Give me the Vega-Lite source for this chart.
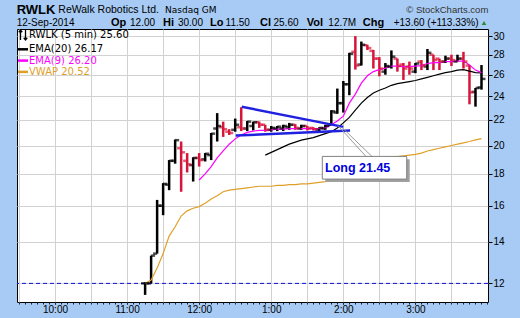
{
  "$schema": "https://vega.github.io/schema/vega-lite/v6.json",
  "width": 471,
  "height": 273,
  "autosize": {"type": "none"},
  "padding": {"left": 17, "top": 29, "right": 32, "bottom": 16},
  "background": "#A7CBF4",
  "config": {
    "view": {"fill": "white", "stroke": "#000000", "strokeWidth": 1},
    "axis": {"labelFont": "Liberation Sans", "labelFontSize": 10, "labelColor": "#000000", "tickColor": "#000000", "domain": false, "gridColor": "#D2D2D2", "gridWidth": 1},
    "text": {"font": "Liberation Sans"}
  },
  "resolve": {"axis": {"x": "independent", "y": "independent"}},
  "datasets": {
    "rwlk": [
      {"t": "2014-09-12T11:15:00", "open": 12.0, "high": 12.05, "low": 11.5, "close": 12.0, "ema20": null, "ema9": null, "vwap": 12.0},
      {"t": "2014-09-12T11:20:00", "open": 12.0, "high": 13.3, "low": 12.0, "close": 13.3, "ema20": null, "ema9": null, "vwap": 12.15},
      {"t": "2014-09-12T11:25:00", "open": 13.4, "high": 16.35, "low": 13.4, "close": 16.0, "ema20": null, "ema9": null, "vwap": 12.7},
      {"t": "2014-09-12T11:30:00", "open": 16.0, "high": 17.4, "low": 15.45, "close": 17.35, "ema20": null, "ema9": null, "vwap": 13.4},
      {"t": "2014-09-12T11:35:00", "open": 17.3, "high": 18.95, "low": 16.95, "close": 18.9, "ema20": null, "ema9": null, "vwap": 14.3},
      {"t": "2014-09-12T11:40:00", "open": 18.9, "high": 20.45, "low": 18.7, "close": 20.4, "ema20": null, "ema9": null, "vwap": 14.8},
      {"t": "2014-09-12T11:45:00", "open": 19.8, "high": 20.3, "low": 16.85, "close": 19.5, "ema20": null, "ema9": null, "vwap": 15.4},
      {"t": "2014-09-12T11:50:00", "open": 18.9, "high": 19.45, "low": 18.1, "close": 18.65, "ema20": null, "ema9": null, "vwap": 15.7},
      {"t": "2014-09-12T11:55:00", "open": 18.6, "high": 19.15, "low": 17.5, "close": 19.1, "ema20": null, "ema9": null, "vwap": 15.85},
      {"t": "2014-09-12T12:00:00", "open": 19.1, "high": 19.45, "low": 18.5, "close": 18.95, "ema20": null, "ema9": 17.6, "vwap": 15.95},
      {"t": "2014-09-12T12:05:00", "open": 19.0, "high": 19.45, "low": 18.85, "close": 19.4, "ema20": null, "ema9": 18.0, "vwap": 16.15},
      {"t": "2014-09-12T12:10:00", "open": 19.3, "high": 20.95, "low": 18.95, "close": 20.9, "ema20": null, "ema9": 18.5, "vwap": 16.4},
      {"t": "2014-09-12T12:15:00", "open": 21.3, "high": 22.55, "low": 20.3, "close": 21.5, "ema20": null, "ema9": 19.1, "vwap": 16.6},
      {"t": "2014-09-12T12:20:00", "open": 21.4, "high": 21.85, "low": 20.65, "close": 21.25, "ema20": null, "ema9": 19.6, "vwap": 16.85},
      {"t": "2014-09-12T12:25:00", "open": 21.05, "high": 21.25, "low": 20.8, "close": 20.95, "ema20": null, "ema9": 20.1, "vwap": 16.95},
      {"t": "2014-09-12T12:30:00", "open": 21.2, "high": 22.1, "low": 21.05, "close": 21.6, "ema20": null, "ema9": 20.5, "vwap": 17.0},
      {"t": "2014-09-12T12:35:00", "open": 21.4, "high": 23.05, "low": 21.1, "close": 21.3, "ema20": null, "ema9": 20.8, "vwap": 17.05},
      {"t": "2014-09-12T12:40:00", "open": 21.3, "high": 21.9, "low": 21.1, "close": 21.85, "ema20": null, "ema9": 21.0, "vwap": 17.1},
      {"t": "2014-09-12T12:45:00", "open": 21.5, "high": 21.85, "low": 21.15, "close": 21.8, "ema20": null, "ema9": 21.1, "vwap": 17.15},
      {"t": "2014-09-12T12:50:00", "open": 21.8, "high": 21.85, "low": 21.35, "close": 21.6, "ema20": null, "ema9": 21.15, "vwap": 17.2},
      {"t": "2014-09-12T12:55:00", "open": 21.6, "high": 21.6, "low": 21.05, "close": 21.2, "ema20": 19.3, "ema9": 21.15, "vwap": 17.2},
      {"t": "2014-09-12T13:00:00", "open": 21.2, "high": 21.5, "low": 21.05, "close": 21.35, "ema20": 19.5, "ema9": 21.2, "vwap": 17.2},
      {"t": "2014-09-12T13:05:00", "open": 21.3, "high": 21.5, "low": 21.1, "close": 21.45, "ema20": 19.7, "ema9": 21.25, "vwap": 17.25},
      {"t": "2014-09-12T13:10:00", "open": 21.3, "high": 21.6, "low": 21.1, "close": 21.5, "ema20": 19.9, "ema9": 21.25, "vwap": 17.25},
      {"t": "2014-09-12T13:15:00", "open": 21.4, "high": 21.75, "low": 21.2, "close": 21.6, "ema20": 20.1, "ema9": 21.3, "vwap": 17.3},
      {"t": "2014-09-12T13:20:00", "open": 21.6, "high": 21.65, "low": 21.2, "close": 21.35, "ema20": 20.25, "ema9": 21.3, "vwap": 17.3},
      {"t": "2014-09-12T13:25:00", "open": 21.3, "high": 21.6, "low": 21.2, "close": 21.5, "ema20": 20.4, "ema9": 21.3, "vwap": 17.35},
      {"t": "2014-09-12T13:30:00", "open": 21.5, "high": 21.5, "low": 21.15, "close": 21.3, "ema20": 20.5, "ema9": 21.3, "vwap": 17.35},
      {"t": "2014-09-12T13:35:00", "open": 21.35, "high": 21.4, "low": 21.15, "close": 21.25, "ema20": 20.6, "ema9": 21.3, "vwap": 17.4},
      {"t": "2014-09-12T13:40:00", "open": 21.2, "high": 21.4, "low": 21.1, "close": 21.35, "ema20": 20.75, "ema9": 21.3, "vwap": 17.45},
      {"t": "2014-09-12T13:45:00", "open": 21.3, "high": 21.6, "low": 21.2, "close": 21.5, "ema20": 20.9, "ema9": 21.35, "vwap": 17.5},
      {"t": "2014-09-12T13:50:00", "open": 21.6, "high": 22.8, "low": 21.6, "close": 22.7, "ema20": 21.05, "ema9": 21.6, "vwap": 17.6},
      {"t": "2014-09-12T13:55:00", "open": 22.6, "high": 24.7, "low": 22.5, "close": 23.4, "ema20": 21.35, "ema9": 21.9, "vwap": 17.75},
      {"t": "2014-09-12T14:00:00", "open": 23.4, "high": 25.4, "low": 22.6, "close": 25.1, "ema20": 21.75, "ema9": 22.3, "vwap": 17.95},
      {"t": "2014-09-12T14:05:00", "open": 25.1, "high": 28.2, "low": 24.1, "close": 28.1, "ema20": 22.2, "ema9": 23.4, "vwap": 18.3},
      {"t": "2014-09-12T14:10:00", "open": 28.3, "high": 30.0, "low": 26.5, "close": 26.9, "ema20": 22.8, "ema9": 24.2, "vwap": 18.65},
      {"t": "2014-09-12T14:15:00", "open": 27.0, "high": 29.4, "low": 26.9, "close": 29.05, "ema20": 23.4, "ema9": 25.2, "vwap": 18.85},
      {"t": "2014-09-12T14:20:00", "open": 29.0, "high": 29.05, "low": 28.5, "close": 28.7, "ema20": 23.9, "ema9": 25.9, "vwap": 18.95},
      {"t": "2014-09-12T14:25:00", "open": 28.4, "high": 28.5, "low": 26.6, "close": 27.6, "ema20": 24.3, "ema9": 26.3, "vwap": 19.0},
      {"t": "2014-09-12T14:30:00", "open": 27.6, "high": 27.75, "low": 25.85, "close": 26.6, "ema20": 24.55, "ema9": 26.5, "vwap": 19.05},
      {"t": "2014-09-12T14:35:00", "open": 26.3, "high": 27.15, "low": 26.0, "close": 26.85, "ema20": 24.75, "ema9": 26.65, "vwap": 19.1},
      {"t": "2014-09-12T14:40:00", "open": 26.8, "high": 28.45, "low": 26.6, "close": 27.8, "ema20": 25.0, "ema9": 26.85, "vwap": 19.15},
      {"t": "2014-09-12T14:45:00", "open": 27.6, "high": 27.6, "low": 26.3, "close": 26.85, "ema20": 25.15, "ema9": 26.85, "vwap": 19.2},
      {"t": "2014-09-12T14:50:00", "open": 27.0, "high": 27.15, "low": 25.5, "close": 26.6, "ema20": 25.25, "ema9": 26.8, "vwap": 19.25},
      {"t": "2014-09-12T14:55:00", "open": 26.8, "high": 27.3, "low": 26.0, "close": 26.6, "ema20": 25.35, "ema9": 26.8, "vwap": 19.3},
      {"t": "2014-09-12T15:00:00", "open": 26.3, "high": 27.15, "low": 26.15, "close": 27.1, "ema20": 25.45, "ema9": 26.85, "vwap": 19.35},
      {"t": "2014-09-12T15:05:00", "open": 27.3, "high": 27.45, "low": 26.45, "close": 26.9, "ema20": 25.6, "ema9": 26.9, "vwap": 19.45},
      {"t": "2014-09-12T15:10:00", "open": 26.8, "high": 28.6, "low": 26.45, "close": 28.2, "ema20": 25.75, "ema9": 27.1, "vwap": 19.6},
      {"t": "2014-09-12T15:15:00", "open": 28.0, "high": 28.0, "low": 26.45, "close": 27.45, "ema20": 25.9, "ema9": 27.2, "vwap": 19.7},
      {"t": "2014-09-12T15:20:00", "open": 27.6, "high": 27.6, "low": 26.45, "close": 27.3, "ema20": 26.05, "ema9": 27.2, "vwap": 19.8},
      {"t": "2014-09-12T15:25:00", "open": 27.3, "high": 27.9, "low": 27.15, "close": 27.6, "ema20": 26.2, "ema9": 27.3, "vwap": 19.9},
      {"t": "2014-09-12T15:30:00", "open": 27.6, "high": 28.0, "low": 26.85, "close": 27.45, "ema20": 26.3, "ema9": 27.3, "vwap": 20.0},
      {"t": "2014-09-12T15:35:00", "open": 27.3, "high": 28.0, "low": 27.3, "close": 27.6, "ema20": 26.45, "ema9": 27.35, "vwap": 20.1},
      {"t": "2014-09-12T15:40:00", "open": 27.6, "high": 28.3, "low": 26.6, "close": 27.3, "ema20": 26.5, "ema9": 27.35, "vwap": 20.2},
      {"t": "2014-09-12T15:45:00", "open": 26.9, "high": 26.95, "low": 23.3, "close": 24.35, "ema20": 26.35, "ema9": 26.95, "vwap": 20.3},
      {"t": "2014-09-12T15:50:00", "open": 24.4, "high": 24.75, "low": 23.1, "close": 24.75, "ema20": 26.2, "ema9": 26.45, "vwap": 20.42},
      {"t": "2014-09-12T15:55:00", "open": 24.8, "high": 26.95, "low": 24.6, "close": 25.6, "ema20": 26.17, "ema9": 26.2, "vwap": 20.52}
    ],
    "trend": [
      {"line": "upper", "t": "2014-09-12T12:35:25", "price": 23.09},
      {"line": "upper", "t": "2014-09-12T14:00:00", "price": 21.43},
      {"line": "lower", "t": "2014-09-12T12:30:25", "price": 20.75},
      {"line": "lower", "t": "2014-09-12T14:05:35", "price": 21.14}
    ]
  },
  "layer": [
    {
      "data": {"name": "rwlk"},
      "mark": {"type": "rule", "strokeWidth": 2.5},
      "encoding": {
        "x": {
          "field": "t", "type": "temporal",
          "scale": {"domain": [
            {"year": 2014, "month": 9, "date": 12, "hours": 9, "minutes": 28, "seconds": 22},
            {"year": 2014, "month": 9, "date": 12, "hours": 16, "minutes": 0, "seconds": 25}
          ]},
          "axis": {
            "title": null, "orient": "bottom", "grid": false,
            "values": [
              {"year": 2014, "month": 9, "date": 12, "hours": 10, "minutes": 0},
              {"year": 2014, "month": 9, "date": 12, "hours": 11, "minutes": 0},
              {"year": 2014, "month": 9, "date": 12, "hours": 12, "minutes": 0},
              {"year": 2014, "month": 9, "date": 12, "hours": 13, "minutes": 0},
              {"year": 2014, "month": 9, "date": 12, "hours": 14, "minutes": 0},
              {"year": 2014, "month": 9, "date": 12, "hours": 15, "minutes": 0}
            ],
            "format": "%-I:%M", "tickSize": 2, "labelPadding": 0, "labelOverlap": false, "labelFlush": false
          }
        },
        "y": {
          "field": "low", "type": "quantitative",
          "scale": {"type": "log", "domain": [11.2, 30.8], "nice": false, "zero": false},
          "axis": {"title": null, "orient": "right", "values": [12, 14, 16, 18, 20, 22, 24, 26, 28, 30], "format": "d", "tickSize": 4, "labelPadding": 1, "grid": true}
        },
        "y2": {"field": "high"},
        "color": {"condition": {"test": "datum.close < datum.open", "value": "#D7153A"}, "value": "#000000"}
      }
    },
    {
      "data": {"values": [{}]},
      "mark": {"type": "rule", "stroke": "#1010D0", "strokeDash": [4, 3], "strokeWidth": 1},
      "encoding": {"y": {"datum": 12, "type": "quantitative", "axis": null}}
    },
    {
      "data": {"name": "rwlk"},
      "transform": [{"fold": ["ema20", "ema9", "vwap"], "as": ["key", "value"]}],
      "mark": {"type": "line", "strokeWidth": 1.2},
      "encoding": {
        "x": {"field": "t", "type": "temporal", "axis": null},
        "y": {"field": "value", "type": "quantitative", "axis": null},
        "color": {
          "field": "key", "type": "nominal",
          "scale": {"domain": ["rwlk", "ema20", "ema9", "vwap"], "range": ["#000000", "#000000", "#FF00FF", "#DFA02A"]},
          "legend": {
            "title": null, "orient": "top-left", "offset": 0, "padding": 1,
            "symbolType": "stroke", "symbolSize": 100, "symbolStrokeWidth": 2.5,
            "labelFont": "DejaVu Sans", "labelFontSize": 10, "labelOffset": 1, "rowPadding": 1.3, "labelLimit": 200,
            "labelExpr": "datum.value === 'rwlk' ? 'RWLK (5 min) 25.60' : datum.value === 'ema20' ? 'EMA(20) 26.17' : datum.value === 'ema9' ? 'EMA(9) 26.20' : 'VWAP 20.52'",
            "encode": {
              "labels": {"update": {"fill": {"signal": "datum.value === 'ema9' ? '#FF00FF' : datum.value === 'vwap' ? '#DFA02A' : '#000000'"}}},
              "symbols": {"update": {
                "shape": {"signal": "datum.value === 'rwlk' ? 'M-0.5,1L-0.5,-1M-0.85,-0.55L-0.5,-1L-0.15,-0.55M0.5,-1L0.5,1M0.15,0.55L0.5,1L0.85,0.55' : 'stroke'"},
                "strokeWidth": {"signal": "datum.value === 'rwlk' ? 1.3 : 2.5"}
              }}
            }
          }
        }
      }
    },
    {
      "data": {"name": "rwlk"},
      "mark": {"type": "tick", "orient": "horizontal", "size": 4, "thickness": 2.5, "xOffset": -2},
      "encoding": {
        "x": {
          "field": "t", "type": "temporal",
          "axis": {
            "title": null, "orient": "bottom", "grid": true, "labels": false, "ticks": false, "domain": false,
            "values": [
              {"year": 2014, "month": 9, "date": 12, "hours": 9, "minutes": 30},
              {"year": 2014, "month": 9, "date": 12, "hours": 10, "minutes": 0},
              {"year": 2014, "month": 9, "date": 12, "hours": 10, "minutes": 30},
              {"year": 2014, "month": 9, "date": 12, "hours": 11, "minutes": 0},
              {"year": 2014, "month": 9, "date": 12, "hours": 11, "minutes": 30},
              {"year": 2014, "month": 9, "date": 12, "hours": 12, "minutes": 0},
              {"year": 2014, "month": 9, "date": 12, "hours": 12, "minutes": 30},
              {"year": 2014, "month": 9, "date": 12, "hours": 13, "minutes": 0},
              {"year": 2014, "month": 9, "date": 12, "hours": 13, "minutes": 30},
              {"year": 2014, "month": 9, "date": 12, "hours": 14, "minutes": 0},
              {"year": 2014, "month": 9, "date": 12, "hours": 14, "minutes": 30},
              {"year": 2014, "month": 9, "date": 12, "hours": 15, "minutes": 0},
              {"year": 2014, "month": 9, "date": 12, "hours": 15, "minutes": 30}
            ]
          }
        },
        "y": {"field": "open", "type": "quantitative", "axis": null},
        "color": {"condition": {"test": "datum.close < datum.open", "value": "#D7153A"}, "value": "#000000"}
      }
    },
    {
      "data": {"name": "rwlk"},
      "mark": {"type": "tick", "orient": "horizontal", "size": 4, "thickness": 2.5, "xOffset": 2},
      "encoding": {
        "x": {
          "field": "t", "type": "temporal",
          "axis": {
            "title": null, "orient": "bottom", "grid": false, "labels": false, "ticks": true, "domain": false, "tickSize": 2, "tickColor": "#222222",
            "values": [
              {"year": 2014, "month": 9, "date": 12, "hours": 9, "minutes": 30},
              {"year": 2014, "month": 9, "date": 12, "hours": 9, "minutes": 35},
              {"year": 2014, "month": 9, "date": 12, "hours": 9, "minutes": 40},
              {"year": 2014, "month": 9, "date": 12, "hours": 9, "minutes": 45},
              {"year": 2014, "month": 9, "date": 12, "hours": 9, "minutes": 50},
              {"year": 2014, "month": 9, "date": 12, "hours": 9, "minutes": 55},
              {"year": 2014, "month": 9, "date": 12, "hours": 10, "minutes": 0},
              {"year": 2014, "month": 9, "date": 12, "hours": 10, "minutes": 5},
              {"year": 2014, "month": 9, "date": 12, "hours": 10, "minutes": 10},
              {"year": 2014, "month": 9, "date": 12, "hours": 10, "minutes": 15},
              {"year": 2014, "month": 9, "date": 12, "hours": 10, "minutes": 20},
              {"year": 2014, "month": 9, "date": 12, "hours": 10, "minutes": 25},
              {"year": 2014, "month": 9, "date": 12, "hours": 10, "minutes": 30},
              {"year": 2014, "month": 9, "date": 12, "hours": 10, "minutes": 35},
              {"year": 2014, "month": 9, "date": 12, "hours": 10, "minutes": 40},
              {"year": 2014, "month": 9, "date": 12, "hours": 10, "minutes": 45},
              {"year": 2014, "month": 9, "date": 12, "hours": 10, "minutes": 50},
              {"year": 2014, "month": 9, "date": 12, "hours": 10, "minutes": 55},
              {"year": 2014, "month": 9, "date": 12, "hours": 11, "minutes": 0},
              {"year": 2014, "month": 9, "date": 12, "hours": 11, "minutes": 5},
              {"year": 2014, "month": 9, "date": 12, "hours": 11, "minutes": 10},
              {"year": 2014, "month": 9, "date": 12, "hours": 11, "minutes": 15},
              {"year": 2014, "month": 9, "date": 12, "hours": 11, "minutes": 20},
              {"year": 2014, "month": 9, "date": 12, "hours": 11, "minutes": 25},
              {"year": 2014, "month": 9, "date": 12, "hours": 11, "minutes": 30},
              {"year": 2014, "month": 9, "date": 12, "hours": 11, "minutes": 35},
              {"year": 2014, "month": 9, "date": 12, "hours": 11, "minutes": 40},
              {"year": 2014, "month": 9, "date": 12, "hours": 11, "minutes": 45},
              {"year": 2014, "month": 9, "date": 12, "hours": 11, "minutes": 50},
              {"year": 2014, "month": 9, "date": 12, "hours": 11, "minutes": 55},
              {"year": 2014, "month": 9, "date": 12, "hours": 12, "minutes": 0},
              {"year": 2014, "month": 9, "date": 12, "hours": 12, "minutes": 5},
              {"year": 2014, "month": 9, "date": 12, "hours": 12, "minutes": 10},
              {"year": 2014, "month": 9, "date": 12, "hours": 12, "minutes": 15},
              {"year": 2014, "month": 9, "date": 12, "hours": 12, "minutes": 20},
              {"year": 2014, "month": 9, "date": 12, "hours": 12, "minutes": 25},
              {"year": 2014, "month": 9, "date": 12, "hours": 12, "minutes": 30},
              {"year": 2014, "month": 9, "date": 12, "hours": 12, "minutes": 35},
              {"year": 2014, "month": 9, "date": 12, "hours": 12, "minutes": 40},
              {"year": 2014, "month": 9, "date": 12, "hours": 12, "minutes": 45},
              {"year": 2014, "month": 9, "date": 12, "hours": 12, "minutes": 50},
              {"year": 2014, "month": 9, "date": 12, "hours": 12, "minutes": 55},
              {"year": 2014, "month": 9, "date": 12, "hours": 13, "minutes": 0},
              {"year": 2014, "month": 9, "date": 12, "hours": 13, "minutes": 5},
              {"year": 2014, "month": 9, "date": 12, "hours": 13, "minutes": 10},
              {"year": 2014, "month": 9, "date": 12, "hours": 13, "minutes": 15},
              {"year": 2014, "month": 9, "date": 12, "hours": 13, "minutes": 20},
              {"year": 2014, "month": 9, "date": 12, "hours": 13, "minutes": 25},
              {"year": 2014, "month": 9, "date": 12, "hours": 13, "minutes": 30},
              {"year": 2014, "month": 9, "date": 12, "hours": 13, "minutes": 35},
              {"year": 2014, "month": 9, "date": 12, "hours": 13, "minutes": 40},
              {"year": 2014, "month": 9, "date": 12, "hours": 13, "minutes": 45},
              {"year": 2014, "month": 9, "date": 12, "hours": 13, "minutes": 50},
              {"year": 2014, "month": 9, "date": 12, "hours": 13, "minutes": 55},
              {"year": 2014, "month": 9, "date": 12, "hours": 14, "minutes": 0},
              {"year": 2014, "month": 9, "date": 12, "hours": 14, "minutes": 5},
              {"year": 2014, "month": 9, "date": 12, "hours": 14, "minutes": 10},
              {"year": 2014, "month": 9, "date": 12, "hours": 14, "minutes": 15},
              {"year": 2014, "month": 9, "date": 12, "hours": 14, "minutes": 20},
              {"year": 2014, "month": 9, "date": 12, "hours": 14, "minutes": 25},
              {"year": 2014, "month": 9, "date": 12, "hours": 14, "minutes": 30},
              {"year": 2014, "month": 9, "date": 12, "hours": 14, "minutes": 35},
              {"year": 2014, "month": 9, "date": 12, "hours": 14, "minutes": 40},
              {"year": 2014, "month": 9, "date": 12, "hours": 14, "minutes": 45},
              {"year": 2014, "month": 9, "date": 12, "hours": 14, "minutes": 50},
              {"year": 2014, "month": 9, "date": 12, "hours": 14, "minutes": 55},
              {"year": 2014, "month": 9, "date": 12, "hours": 15, "minutes": 0},
              {"year": 2014, "month": 9, "date": 12, "hours": 15, "minutes": 5},
              {"year": 2014, "month": 9, "date": 12, "hours": 15, "minutes": 10},
              {"year": 2014, "month": 9, "date": 12, "hours": 15, "minutes": 15},
              {"year": 2014, "month": 9, "date": 12, "hours": 15, "minutes": 20},
              {"year": 2014, "month": 9, "date": 12, "hours": 15, "minutes": 25},
              {"year": 2014, "month": 9, "date": 12, "hours": 15, "minutes": 30},
              {"year": 2014, "month": 9, "date": 12, "hours": 15, "minutes": 35},
              {"year": 2014, "month": 9, "date": 12, "hours": 15, "minutes": 40},
              {"year": 2014, "month": 9, "date": 12, "hours": 15, "minutes": 45},
              {"year": 2014, "month": 9, "date": 12, "hours": 15, "minutes": 50},
              {"year": 2014, "month": 9, "date": 12, "hours": 15, "minutes": 55},
              {"year": 2014, "month": 9, "date": 12, "hours": 16, "minutes": 0}
            ]
          }
        },
        "y": {"field": "close", "type": "quantitative", "axis": null},
        "color": {"condition": {"test": "datum.close < datum.open", "value": "#D7153A"}, "value": "#000000"}
      }
    },
    {
      "data": {"name": "trend"},
      "mark": {"type": "line", "stroke": "#2020E0", "strokeWidth": 2.5},
      "encoding": {
        "x": {"field": "t", "type": "temporal", "axis": null},
        "y": {"field": "price", "type": "quantitative", "axis": null},
        "detail": {"field": "line"}
      }
    },
    {
      "data": {"values": [{}]},
      "mark": {"type": "rule", "stroke": "#9A9A9A", "strokeWidth": 1},
      "encoding": {
        "x": {"datum": {"year": 2014, "month": 9, "date": 12, "hours": 13, "minutes": 55, "seconds": 34}, "type": "temporal", "axis": null},
        "y": {"datum": 21.53, "type": "quantitative", "axis": null},
        "x2": {"datum": {"year": 2014, "month": 9, "date": 12, "hours": 14, "minutes": 18, "seconds": 54}},
        "y2": {"datum": 19.2}
      }
    },
    {
      "data": {"values": [{}]},
      "mark": {"type": "rule", "stroke": "#9A9A9A", "strokeWidth": 1},
      "encoding": {
        "x": {"datum": {"year": 2014, "month": 9, "date": 12, "hours": 13, "minutes": 58, "seconds": 55}, "type": "temporal", "axis": null},
        "y": {"datum": 21.38, "type": "quantitative", "axis": null},
        "x2": {"datum": {"year": 2014, "month": 9, "date": 12, "hours": 14, "minutes": 23, "seconds": 53}},
        "y2": {"datum": 19.2}
      }
    },
    {
      "data": {"values": [{}]},
      "mark": {"type": "rect", "fill": "#A0A0A0"},
      "encoding": {
        "x": {"datum": {"year": 2014, "month": 9, "date": 12, "hours": 13, "minutes": 45, "seconds": 0}, "type": "temporal", "axis": null},
        "x2": {"datum": {"year": 2014, "month": 9, "date": 12, "hours": 14, "minutes": 55, "seconds": 15}},
        "y": {"datum": 19.0, "type": "quantitative", "axis": null},
        "y2": {"datum": 17.47}
      }
    },
    {
      "data": {"values": [{}]},
      "mark": {"type": "rect", "fill": "#FFFFFF", "stroke": "#808080", "strokeWidth": 1},
      "encoding": {
        "x": {"datum": {"year": 2014, "month": 9, "date": 12, "hours": 13, "minutes": 42, "seconds": 30}, "type": "temporal", "axis": null},
        "x2": {"datum": {"year": 2014, "month": 9, "date": 12, "hours": 14, "minutes": 52, "seconds": 45}},
        "y": {"datum": 19.21, "type": "quantitative", "axis": null},
        "y2": {"datum": 17.66}
      }
    },
    {
      "data": {"values": [{}]},
      "mark": {"type": "text", "text": "Long 21.45", "align": "left", "baseline": "alphabetic", "font": "Liberation Sans", "fontSize": 12.5, "fontWeight": "bold", "fill": "#0000E0"},
      "encoding": {
        "x": {"datum": {"year": 2014, "month": 9, "date": 12, "hours": 13, "minutes": 44, "seconds": 45}, "type": "temporal", "axis": null},
        "y": {"datum": 18.1, "type": "quantitative", "axis": null}
      }
    },
    {
      "data": {"values": [{}]},
      "mark": {"type": "text", "text": "RWLK", "align": "left", "baseline": "alphabetic", "font": "Liberation Sans", "fontSize": 13, "fontWeight": "bold", "fill": "#000000"},
      "encoding": {
        "x": {"datum": {"year": 2014, "month": 9, "date": 12, "hours": 9, "minutes": 28, "seconds": 5}, "type": "temporal", "axis": null},
        "y": {"datum": 32.54, "type": "quantitative", "axis": null}
      }
    },
    {
      "data": {"values": [{}]},
      "mark": {"type": "text", "text": "ReWalk Robotics Ltd.", "align": "left", "baseline": "alphabetic", "font": "Liberation Sans", "fontSize": 10.5, "fill": "#000000"},
      "encoding": {
        "x": {"datum": {"year": 2014, "month": 9, "date": 12, "hours": 10, "minutes": 2, "seconds": 46}, "type": "temporal", "axis": null},
        "y": {"datum": 32.66, "type": "quantitative", "axis": null}
      }
    },
    {
      "data": {"values": [{}]},
      "mark": {"type": "text", "text": "Nasdaq GM", "align": "left", "baseline": "alphabetic", "font": "DejaVu Sans", "fontSize": 9, "fill": "#000000"},
      "encoding": {
        "x": {"datum": {"year": 2014, "month": 9, "date": 12, "hours": 11, "minutes": 31, "seconds": 34}, "type": "temporal", "axis": null},
        "y": {"datum": 32.72, "type": "quantitative", "axis": null}
      }
    },
    {
      "data": {"values": [{}]},
      "mark": {"type": "text", "text": "© StockCharts.com", "align": "right", "baseline": "alphabetic", "font": "Liberation Sans", "fontSize": 9.5, "fill": "#333333"},
      "encoding": {
        "x": {"datum": {"year": 2014, "month": 9, "date": 12, "hours": 16, "minutes": 0, "seconds": 41}, "type": "temporal", "axis": null},
        "y": {"datum": 32.66, "type": "quantitative", "axis": null}
      }
    },
    {
      "data": {"values": [{}]},
      "mark": {"type": "text", "text": "12-Sep-2014", "align": "left", "baseline": "alphabetic", "font": "Liberation Sans", "fontSize": 10, "fill": "#000000"},
      "encoding": {
        "x": {"datum": {"year": 2014, "month": 9, "date": 12, "hours": 9, "minutes": 28, "seconds": 5}, "type": "temporal", "axis": null},
        "y": {"datum": 31.15, "type": "quantitative", "axis": null}
      }
    },
    {
      "data": {"values": [{}]},
      "mark": {"type": "text", "text": "Op", "align": "left", "baseline": "alphabetic", "font": "Liberation Sans", "fontSize": 11, "fontWeight": "bold", "fill": "#000000"},
      "encoding": {
        "x": {"datum": {"year": 2014, "month": 9, "date": 12, "hours": 10, "minutes": 46, "seconds": 37}, "type": "temporal", "axis": null},
        "y": {"datum": 31.15, "type": "quantitative", "axis": null}
      }
    },
    {
      "data": {"values": [{}]},
      "mark": {"type": "text", "text": "12.00", "align": "left", "baseline": "alphabetic", "font": "Liberation Sans", "fontSize": 10, "fill": "#000000"},
      "encoding": {
        "x": {"datum": {"year": 2014, "month": 9, "date": 12, "hours": 11, "minutes": 2, "seconds": 26}, "type": "temporal", "axis": null},
        "y": {"datum": 31.15, "type": "quantitative", "axis": null}
      }
    },
    {
      "data": {"values": [{}]},
      "mark": {"type": "text", "text": "Hi", "align": "left", "baseline": "alphabetic", "font": "Liberation Sans", "fontSize": 11, "fontWeight": "bold", "fill": "#000000"},
      "encoding": {
        "x": {"datum": {"year": 2014, "month": 9, "date": 12, "hours": 11, "minutes": 29, "seconds": 54}, "type": "temporal", "axis": null},
        "y": {"datum": 31.15, "type": "quantitative", "axis": null}
      }
    },
    {
      "data": {"values": [{}]},
      "mark": {"type": "text", "text": "30.00", "align": "left", "baseline": "alphabetic", "font": "Liberation Sans", "fontSize": 10, "fill": "#000000"},
      "encoding": {
        "x": {"datum": {"year": 2014, "month": 9, "date": 12, "hours": 11, "minutes": 42, "seconds": 20}, "type": "temporal", "axis": null},
        "y": {"datum": 31.15, "type": "quantitative", "axis": null}
      }
    },
    {
      "data": {"values": [{}]},
      "mark": {"type": "text", "text": "Lo", "align": "left", "baseline": "alphabetic", "font": "Liberation Sans", "fontSize": 11, "fontWeight": "bold", "fill": "#000000"},
      "encoding": {
        "x": {"datum": {"year": 2014, "month": 9, "date": 12, "hours": 12, "minutes": 9, "seconds": 1}, "type": "temporal", "axis": null},
        "y": {"datum": 31.15, "type": "quantitative", "axis": null}
      }
    },
    {
      "data": {"values": [{}]},
      "mark": {"type": "text", "text": "11.50", "align": "left", "baseline": "alphabetic", "font": "Liberation Sans", "fontSize": 10, "fill": "#000000"},
      "encoding": {
        "x": {"datum": {"year": 2014, "month": 9, "date": 12, "hours": 12, "minutes": 22, "seconds": 0}, "type": "temporal", "axis": null},
        "y": {"datum": 31.15, "type": "quantitative", "axis": null}
      }
    },
    {
      "data": {"values": [{}]},
      "mark": {"type": "text", "text": "Cl", "align": "left", "baseline": "alphabetic", "font": "Liberation Sans", "fontSize": 11, "fontWeight": "bold", "fill": "#000000"},
      "encoding": {
        "x": {"datum": {"year": 2014, "month": 9, "date": 12, "hours": 12, "minutes": 50, "seconds": 38}, "type": "temporal", "axis": null},
        "y": {"datum": 31.15, "type": "quantitative", "axis": null}
      }
    },
    {
      "data": {"values": [{}]},
      "mark": {"type": "text", "text": "25.60", "align": "left", "baseline": "alphabetic", "font": "Liberation Sans", "fontSize": 10, "fill": "#000000"},
      "encoding": {
        "x": {"datum": {"year": 2014, "month": 9, "date": 12, "hours": 13, "minutes": 1, "seconds": 52}, "type": "temporal", "axis": null},
        "y": {"datum": 31.15, "type": "quantitative", "axis": null}
      }
    },
    {
      "data": {"values": [{}]},
      "mark": {"type": "text", "text": "Vol", "align": "left", "baseline": "alphabetic", "font": "Liberation Sans", "fontSize": 11, "fontWeight": "bold", "fill": "#000000"},
      "encoding": {
        "x": {"datum": {"year": 2014, "month": 9, "date": 12, "hours": 13, "minutes": 29, "seconds": 31}, "type": "temporal", "axis": null},
        "y": {"datum": 31.15, "type": "quantitative", "axis": null}
      }
    },
    {
      "data": {"values": [{}]},
      "mark": {"type": "text", "text": "12.7M", "align": "left", "baseline": "alphabetic", "font": "Liberation Sans", "fontSize": 10, "fill": "#000000"},
      "encoding": {
        "x": {"datum": {"year": 2014, "month": 9, "date": 12, "hours": 13, "minutes": 47, "seconds": 30}, "type": "temporal", "axis": null},
        "y": {"datum": 31.15, "type": "quantitative", "axis": null}
      }
    },
    {
      "data": {"values": [{}]},
      "mark": {"type": "text", "text": "Chg", "align": "left", "baseline": "alphabetic", "font": "Liberation Sans", "fontSize": 11, "fontWeight": "bold", "fill": "#000000"},
      "encoding": {
        "x": {"datum": {"year": 2014, "month": 9, "date": 12, "hours": 14, "minutes": 16, "seconds": 8}, "type": "temporal", "axis": null},
        "y": {"datum": 31.15, "type": "quantitative", "axis": null}
      }
    },
    {
      "data": {"values": [{}]},
      "mark": {"type": "text", "text": "+13.60 (+113.33%)", "align": "right", "baseline": "alphabetic", "font": "Liberation Sans", "fontSize": 10, "fill": "#000000"},
      "encoding": {
        "x": {"datum": {"year": 2014, "month": 9, "date": 12, "hours": 15, "minutes": 52, "seconds": 34}, "type": "temporal", "axis": null},
        "y": {"datum": 31.15, "type": "quantitative", "axis": null}
      }
    },
    {
      "data": {"values": [{}]},
      "mark": {"type": "point", "shape": "triangle-up", "filled": true, "size": 22, "fill": "#2E8B3A", "opacity": 1},
      "encoding": {
        "x": {"datum": {"year": 2014, "month": 9, "date": 12, "hours": 15, "minutes": 57, "seconds": 7}, "type": "temporal", "axis": null},
        "y": {"datum": 31.5, "type": "quantitative", "axis": null}
      }
    }
  ]
}
